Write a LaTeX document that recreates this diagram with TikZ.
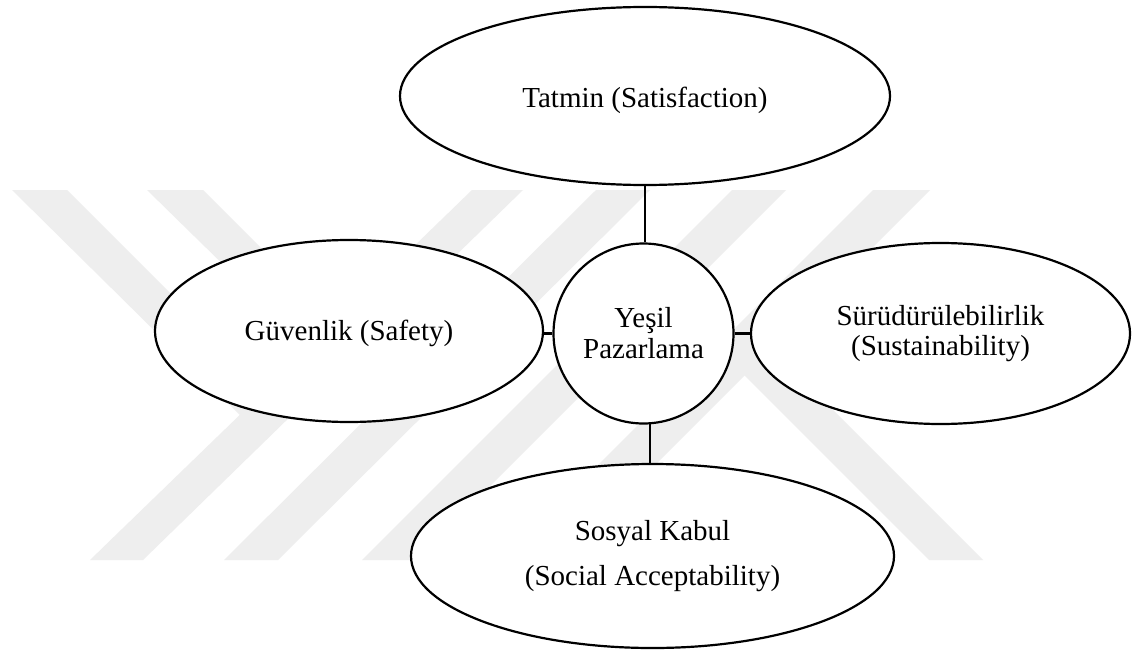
\documentclass[tikz,border=0pt]{standalone}
\usepackage{fontspec}
\setmainfont{Liberation Serif}
\usetikzlibrary{shapes.geometric}
\definecolor{wmgray}{RGB}{238,238,238}
\tikzset{
  bubble/.style={draw=black, line width=2.2pt, fill=white, ellipse, inner sep=0pt,
    font=\fontsize{29}{31}\selectfont, align=center},
  hub/.style={draw=black, line width=2.2pt, fill=white, circle, inner sep=0pt,
    minimum size=180pt, font=\fontsize{29}{31}\selectfont, align=center},
  link/.style={draw=black, line width=2.2pt},
  stripe/.style={fill=wmgray, draw=none}
}
\begin{document}
\begin{tikzpicture}[x=1pt,y=-1pt]
\useasboundingbox[fill=white] (0,0) rectangle (1134,650);

% background stripes
\fill[stripe] (90,560) -- (143,560) -- (523,190) -- (472,190) -- cycle;
\fill[stripe] (12,190) -- (67,190) -- (275,398) -- (250,425) -- cycle;
\fill[stripe] (224,560) -- (278,560) -- (650,190) -- (596,190) -- cycle;
\fill[stripe] (147,190) -- (203,190) -- (408,395) -- (383,421) -- cycle;
\fill[stripe] (362,560) -- (416,560) -- (786,190) -- (732,190) -- cycle;
\fill[stripe] (503,560) -- (560,560) -- (930,190) -- (873,190) -- cycle;
\fill[stripe] (929,560) -- (983,560) -- (761,338) -- (734,365) -- cycle;

% concept bubbles
\node[bubble, minimum width=490pt, minimum height=178pt, text height=32pt, text depth=8pt]
  (top) at (645,96) {Tatmin (Satisfaction)};
\node[bubble, minimum width=388pt, minimum height=182pt, text height=27pt, text depth=8pt]
  (left) at (349,331) {Güvenlik (Safety)};
\node[bubble, minimum width=379pt, minimum height=181pt, font=\fontsize{29}{30}\selectfont]
  (right) at (940.5,333.5) {Sürüdürülebilirlik\\(Sustainability)};
\node[bubble, minimum width=483pt, minimum height=184pt, font=\fontsize{29}{45}\selectfont]
  (bottom) at (652.5,556) {Sosyal Kabul\\(Social Acceptability)};
\node[hub] (hub) at (643.5,333.5) {Yeşil\\Pazarlama};

% connectors
\draw[link] (top.south) -- (top.south |- hub.north);
\draw[link] (hub.west) -- (hub.west -| left.east);
\draw[link] (hub.east) -- (hub.east -| right.west);
\draw[link] (hub.-86) -- (hub.-86 |- bottom.north);
\end{tikzpicture}
\end{document}
